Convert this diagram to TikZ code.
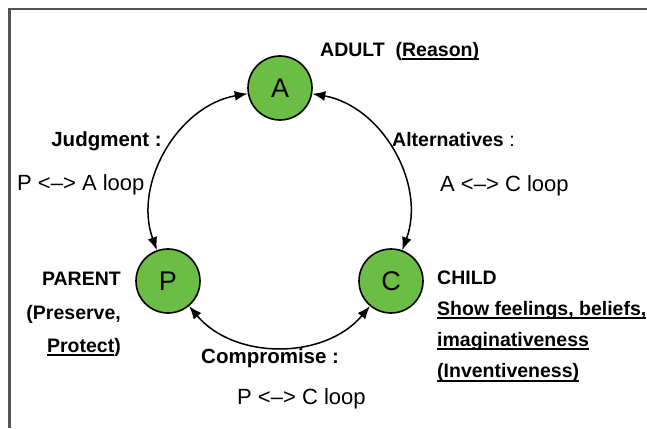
\documentclass[tikz,border=0pt]{standalone}
\usepackage{fontspec}
\setmainfont{Liberation Sans}
\usepackage{tikz}
\usetikzlibrary{arrows.meta,positioning}

\definecolor{egogreen}{RGB}{108,189,69}
\definecolor{framegray}{RGB}{85,85,85}
\newcommand\ulbar[1]{\sbox0{#1}\rlap{\rule[-3.5pt]{\wd0}{2pt}}\usebox0}

\tikzset{
  egostate/.style={circle, draw, line width=1.6pt, fill=egogreen, minimum size=64pt, inner sep=0pt, font=\fontsize{27}{27}\selectfont},
  lbl/.style={inner sep=0pt, font=\fontsize{19.5}{31}\selectfont\bfseries},
  biglbl/.style={lbl, font=\fontsize{20.5}{31}\selectfont\bfseries},
  loopnote/.style={inner sep=0pt, font=\fontsize{22}{22}\selectfont},
  loopedge/.style={{Latex[length=13pt,width=10pt]}-{Latex[length=13pt,width=10pt]}, line width=1.5pt, bend left=50}
}

\begin{document}
\begin{tikzpicture}[x=1pt,y=1pt]
\useasboundingbox (0,0) rectangle (647,428);
\draw[framegray, line width=2.5pt] (647,419) -- (9.5,419) -- (9.5,0);

\node[egostate]	(A)	at (280,340)	{A};
\node[egostate]	(P)	at (168,147)	{P};
\node[egostate]	(C)	at (391,147)	{C};

% Connect nodes
\draw[loopedge] (P) to (A);
\draw[loopedge] (A) to (C);
\draw[loopedge] (C) to (P);

% labels
\node[lbl, anchor=base west]	(adult)	at (320,371)	{ADULT\ \ (\ulbar{Reason)}};
\node[lbl, font=\fontsize{19.5}{33.5}\selectfont\bfseries, anchor=base east, align=right]	(parent)	at (121,75)	{PARENT\\(Preserve,\\\ulbar{Protect})};
\node[lbl, anchor=base west, align=left]	(child)	at (437,50)	{CHILD\\\ulbar{Show feelings, beliefs,}\\\ulbar{imaginativeness}\\\ulbar{(Inventiveness)}};

\node[biglbl, anchor=base east]	(judg)	at (162,281)	{Judgment :};
\node[loopnote, anchor=base west]	(paloop)	at (17,237)	{P <–> A loop};
\node[lbl, anchor=base west]	(alt)	at (392,281)	{Alternatives\mdseries\ :};
\node[loopnote, anchor=base west]	(acloop)	at (440,236)	{A <–> C loop};
\node[biglbl, anchor=base west]	(comp)	at (201,64)	{Compromise :};
\node[loopnote, anchor=base west]	(pcloop)	at (237,24)	{P <–> C loop};

\end{tikzpicture}
\end{document}
